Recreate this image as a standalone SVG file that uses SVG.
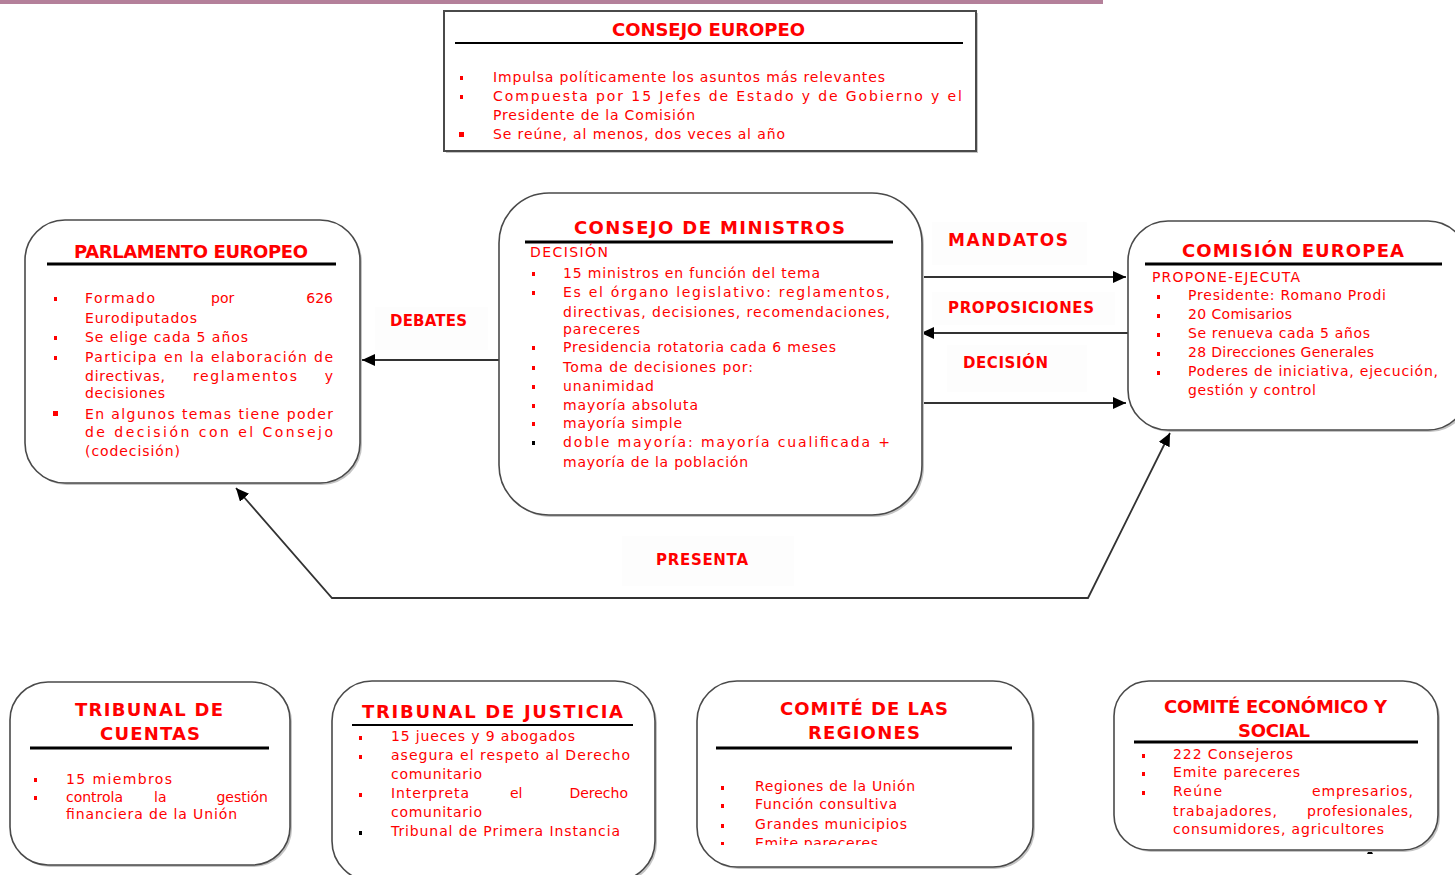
<svg xmlns="http://www.w3.org/2000/svg" width="1455" height="875" viewBox="0 0 1455 875">
<style>
.box{fill:#fff;stroke:#4a4a4a;stroke-width:1.6}
.sh{fill:#c4c4c4}
.ti{font-family:"DejaVu Sans",sans-serif;font-weight:bold;font-size:18px;fill:#f00}
.t{font-family:"DejaVu Sans",sans-serif;font-size:14px;fill:#f00}
.lb{font-family:"DejaVu Sans",sans-serif;font-weight:bold;font-size:15px;fill:#f00}
.rule{stroke:#000;stroke-width:3}
.conn{stroke:#333;stroke-width:1.8;fill:none}
.b{fill:#f00}
.bk{fill:#000}
.lbg{fill:#fdfdfd}
.e{text-anchor:end}
</style>
<defs>
<marker id="ah" markerUnits="userSpaceOnUse" markerWidth="14" markerHeight="14" refX="13" refY="6" orient="auto-start-reverse">
<path d="M0,0 L13,6 L0,12 z" fill="#000"/>
</marker>
<clipPath id="regclip"><rect x="690" y="675" width="350" height="170"/></clipPath>
</defs>

<rect x="0" y="0" width="1103" height="4" fill="#b4809a"/>

<g id="label-bg">
<rect class="lbg" x="932" y="222" width="155" height="43"/>
<rect class="lbg" x="932" y="292" width="183" height="33"/>
<rect class="lbg" x="947" y="345" width="140" height="47"/>
<rect class="lbg" x="375" y="307" width="113" height="43"/>
<rect class="lbg" x="622" y="536" width="172" height="50"/>
</g>

<g id="connectors">
<path class="conn" d="M920,277 L1126,277" marker-end="url(#ah)"/>
<path class="conn" d="M1128,333 L921,333" marker-end="url(#ah)"/>
<path class="conn" d="M920,403 L1126,403" marker-end="url(#ah)"/>
<path class="conn" d="M500,360 L362,360" marker-end="url(#ah)"/>
<path class="conn" d="M1170,433 L1088,598 L332,598 L236,488" marker-start="url(#ah)" marker-end="url(#ah)"/>
<path d="M1370,848 L1373,854 L1367,854 z" fill="#000"/>
<text class="lb" x="948" y="246" textLength="120" style="font-size:17px">MANDATOS</text>
<text class="lb" x="948" y="313" textLength="146">PROPOSICIONES</text>
<text class="lb" x="963" y="368" textLength="85">DECISIÓN</text>
<text class="lb" x="390" y="326" textLength="77">DEBATES</text>
<text class="lb" x="656" y="565" textLength="92">PRESENTA</text>
</g>

<g id="consejo-europeo">
<rect class="sh" x="446" y="13" width="532" height="140"/>
<rect x="444" y="11" width="532" height="140" fill="#fff" stroke="#4a4a4a" stroke-width="2"/>
<text class="ti" x="612" y="36" textLength="193">CONSEJO EUROPEO</text>
<line x1="455" y1="43" x2="963" y2="43" stroke="#000" stroke-width="2"/>
<rect class="b" x="460" y="76" width="3" height="4"/>
<rect class="b" x="460" y="95" width="3" height="4"/>
<rect class="b" x="459" y="132" width="5" height="5"/>
<text class="t" x="493" y="82" textLength="392">Impulsa políticamente los asuntos más relevantes</text>
<text class="t" x="493" y="101" textLength="469">Compuesta por 15 Jefes de Estado y de Gobierno y el</text>
<text class="t" x="493" y="120" textLength="202">Presidente de la Comisión</text>
<text class="t" x="493" y="139" textLength="292">Se reúne, al menos, dos veces al año</text>
</g>

<g id="parlamento-europeo">
<rect class="sh" x="27" y="222" width="335" height="263" rx="40"/>
<rect class="box" x="25" y="220" width="335" height="263" rx="40"/>
<text class="ti" x="74" y="258" textLength="234">PARLAMENTO EUROPEO</text>
<line class="rule" x1="47" y1="264" x2="336" y2="264"/>
<rect class="b" x="54" y="297" width="3" height="4"/>
<rect class="b" x="54" y="336" width="3" height="4"/>
<rect class="b" x="54" y="356" width="3" height="4"/>
<rect class="b" x="53" y="411" width="5" height="5"/>
<text class="t" x="85" y="303" textLength="70">Formado</text>
<text class="t" x="211" y="303">por</text>
<text class="t e" x="333" y="303">626</text>
<text class="t" x="85" y="323" textLength="112">Eurodiputados</text>
<text class="t" x="85" y="342" textLength="163">Se elige cada 5 años</text>
<text class="t" x="85" y="362" textLength="248">Participa en la elaboración de</text>
<text class="t" x="85" y="381" textLength="80">directivas,</text>
<text class="t" x="193" y="381" textLength="104">reglamentos</text>
<text class="t e" x="333" y="381">y</text>
<text class="t" x="85" y="398" textLength="80">decisiones</text>
<text class="t" x="85" y="419" textLength="248">En algunos temas tiene poder</text>
<text class="t" x="85" y="437" textLength="248">de decisión con el Consejo</text>
<text class="t" x="85" y="456" textLength="95">(codecisión)</text>
</g>

<g id="consejo-de-ministros">
<rect class="sh" x="501" y="195" width="423" height="322" rx="50"/>
<rect class="box" x="499" y="193" width="423" height="322" rx="50"/>
<text class="ti" x="574" y="234" textLength="271">CONSEJO DE MINISTROS</text>
<line class="rule" x1="525" y1="242" x2="893" y2="242"/>
<text class="t" x="530" y="257" textLength="78">DECISIÓN</text>
<rect class="b" x="532" y="272" width="3" height="4"/>
<rect class="b" x="532" y="291" width="3" height="4"/>
<rect class="b" x="532" y="346" width="3" height="4"/>
<rect class="b" x="532" y="366" width="3" height="4"/>
<rect class="b" x="532" y="385" width="3" height="4"/>
<rect class="b" x="532" y="404" width="3" height="4"/>
<rect class="b" x="532" y="422" width="3" height="4"/>
<rect class="bk" x="532" y="441" width="3" height="4"/>
<text class="t" x="563" y="278" textLength="257">15 ministros en función del tema</text>
<text class="t" x="563" y="297" textLength="327">Es el órgano legislativo: reglamentos,</text>
<text class="t" x="563" y="317" textLength="327">directivas, decisiones, recomendaciones,</text>
<text class="t" x="563" y="334" textLength="77">pareceres</text>
<text class="t" x="563" y="352" textLength="273">Presidencia rotatoria cada 6 meses</text>
<text class="t" x="563" y="372" textLength="190">Toma de decisiones por:</text>
<text class="t" x="563" y="391" textLength="91">unanimidad</text>
<text class="t" x="563" y="410" textLength="135">mayoría absoluta</text>
<text class="t" x="563" y="428" textLength="119">mayoría simple</text>
<text class="t" x="563" y="447" textLength="327">doble mayoría: mayoría cualificada +</text>
<text class="t" x="563" y="467" textLength="185">mayoría de la población</text>
</g>

<g id="comision-europea">
<rect class="sh" x="1130" y="223" width="340" height="209" rx="40"/>
<rect class="box" x="1128" y="221" width="340" height="209" rx="40"/>
<text class="ti" x="1182" y="257" textLength="222">COMISIÓN EUROPEA</text>
<line class="rule" x1="1145" y1="264" x2="1442" y2="264"/>
<text class="t" x="1152" y="282" textLength="148">PROPONE-EJECUTA</text>
<rect class="b" x="1157" y="295" width="3" height="4"/>
<rect class="b" x="1157" y="314" width="3" height="4"/>
<rect class="b" x="1157" y="333" width="3" height="4"/>
<rect class="b" x="1157" y="352" width="3" height="4"/>
<rect class="b" x="1157" y="371" width="3" height="4"/>
<text class="t" x="1188" y="300" textLength="198">Presidente: Romano Prodi</text>
<text class="t" x="1188" y="319" textLength="104">20 Comisarios</text>
<text class="t" x="1188" y="338" textLength="182">Se renueva cada 5 años</text>
<text class="t" x="1188" y="357" textLength="186">28 Direcciones Generales</text>
<text class="t" x="1188" y="376" textLength="250">Poderes de iniciativa, ejecución,</text>
<text class="t" x="1188" y="395" textLength="128">gestión y control</text>
</g>

<g id="tribunal-de-cuentas">
<rect class="sh" x="12" y="684" width="280" height="183" rx="38"/>
<rect class="box" x="10" y="682" width="280" height="183" rx="38"/>
<text class="ti" x="75" y="716" textLength="148">TRIBUNAL DE</text>
<text class="ti" x="100" y="740" textLength="100">CUENTAS</text>
<line class="rule" x1="30" y1="748" x2="269" y2="748"/>
<rect class="b" x="34" y="778" width="3" height="4"/>
<rect class="b" x="34" y="796" width="3" height="4"/>
<text class="t" x="66" y="784" textLength="106">15 miembros</text>
<text class="t" x="66" y="802" textLength="57">controla</text>
<text class="t" x="154" y="802">la</text>
<text class="t e" x="268" y="802">gestión</text>
<text class="t" x="66" y="819" textLength="171">financiera de la Unión</text>
</g>

<g id="tribunal-de-justicia">
<rect class="sh" x="334" y="683" width="323" height="200" rx="40"/>
<rect class="box" x="332" y="681" width="323" height="200" rx="40"/>
<text class="ti" x="362" y="718" textLength="261">TRIBUNAL DE JUSTICIA</text>
<line x1="352" y1="725" x2="633" y2="725" stroke="#000" stroke-width="2"/>
<rect class="b" x="359" y="736" width="3" height="4"/>
<rect class="b" x="359" y="755" width="3" height="4"/>
<rect class="b" x="359" y="793" width="3" height="4"/>
<rect class="bk" x="359" y="831" width="3" height="4"/>
<text class="t" x="391" y="741" textLength="184">15 jueces y 9 abogados</text>
<text class="t" x="391" y="760" textLength="239">asegura el respeto al Derecho</text>
<text class="t" x="391" y="779" textLength="91">comunitario</text>
<text class="t" x="391" y="798" textLength="78">Interpreta</text>
<text class="t" x="510" y="798">el</text>
<text class="t e" x="628" y="798">Derecho</text>
<text class="t" x="391" y="817" textLength="91">comunitario</text>
<text class="t" x="391" y="836" textLength="229">Tribunal de Primera Instancia</text>
</g>

<g id="comite-de-las-regiones">
<rect class="sh" x="699" y="683" width="336" height="186" rx="40"/>
<rect class="box" x="697" y="681" width="336" height="186" rx="40"/>
<text class="ti" x="780" y="715" textLength="168">COMITÉ DE LAS</text>
<text class="ti" x="808" y="739" textLength="112">REGIONES</text>
<line class="rule" x1="716" y1="748" x2="1012" y2="748"/>
<g clip-path="url(#regclip)">
<rect class="b" x="721" y="786" width="3" height="4"/>
<rect class="b" x="721" y="804" width="3" height="4"/>
<rect class="b" x="721" y="824" width="3" height="4"/>
<rect class="b" x="721" y="842" width="3" height="3"/>
<text class="t" x="755" y="791" textLength="160">Regiones de la Unión</text>
<text class="t" x="755" y="809" textLength="142">Función consultiva</text>
<text class="t" x="755" y="829" textLength="152">Grandes municipios</text>
<text class="t" x="755" y="848" textLength="123">Emite pareceres</text>
</g>
</g>

<g id="comite-economico-social">
<rect class="sh" x="1116" y="683" width="324" height="169" rx="35"/>
<rect class="box" x="1114" y="681" width="324" height="169" rx="35"/>
<text class="ti" x="1164" y="713" textLength="223">COMITÉ ECONÓMICO Y</text>
<text class="ti" x="1238" y="737" textLength="72">SOCIAL</text>
<line class="rule" x1="1134" y1="742" x2="1418" y2="742"/>
<rect class="b" x="1142" y="754" width="3" height="4"/>
<rect class="b" x="1142" y="772" width="3" height="4"/>
<rect class="b" x="1142" y="791" width="3" height="4"/>
<text class="t" x="1173" y="759" textLength="120">222 Consejeros</text>
<text class="t" x="1173" y="777" textLength="127">Emite pareceres</text>
<text class="t" x="1173" y="796" textLength="49">Reúne</text>
<text class="t" x="1312" y="796" textLength="101">empresarios,</text>
<text class="t" x="1173" y="816" textLength="104">trabajadores,</text>
<text class="t" x="1307" y="816" textLength="106">profesionales,</text>
<text class="t" x="1173" y="834" textLength="211">consumidores, agricultores</text>
</g>
</svg>
